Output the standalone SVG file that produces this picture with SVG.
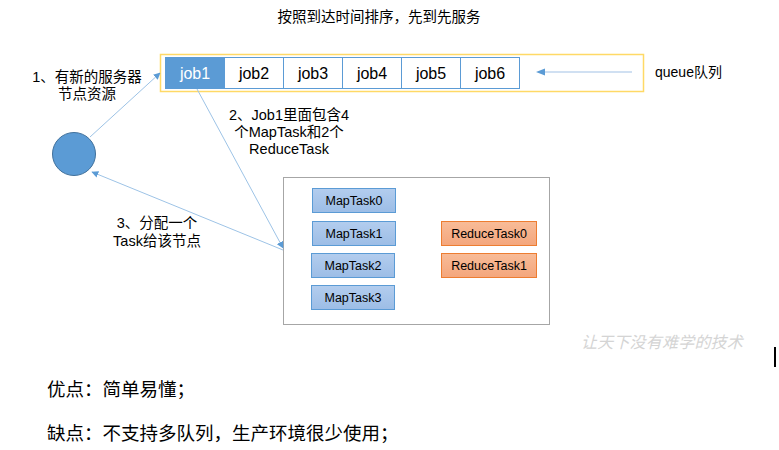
<svg xmlns="http://www.w3.org/2000/svg" width="779" height="450" viewBox="0 0 779 450">
<defs>
<marker id="ah" viewBox="0 0 10 10" refX="9" refY="5" markerWidth="7" markerHeight="7" markerUnits="userSpaceOnUse" orient="auto">
<path d="M0,0 L10,5 L0,10 z" fill="#5b9bd5"/>
</marker>
<linearGradient id="gb" x1="0" y1="0" x2="0" y2="1">
<stop offset="0" stop-color="#b3cdee"/><stop offset="1" stop-color="#9cbde6"/>
</linearGradient>
<linearGradient id="go" x1="0" y1="0" x2="0" y2="1">
<stop offset="0" stop-color="#f8bc98"/><stop offset="1" stop-color="#f4a67c"/>
</linearGradient>
</defs>
<style>
text{font-family:"Liberation Sans","Noto Sans CJK SC",sans-serif;fill:#000}
.lbl{font-size:14.5px;text-anchor:middle}
.job{fill:#fff;stroke:#5b9bd5;stroke-width:1}
.jt{font-size:16px;text-anchor:middle}
.map{fill:url(#gb);stroke:#5b9bd5;stroke-width:1}
.red{fill:url(#go);stroke:#ed7d31;stroke-width:1}
.tt{font-size:12.5px;text-anchor:middle}
.con{stroke:#9dc3e6;stroke-width:1;fill:none;marker-end:url(#ah)}
.note{font-family:"Liberation Serif","Noto Sans CJK SC",serif;font-size:18.5px}
</style>
<rect width="779" height="450" fill="#fff"/>
<g id="title"><text class="lbl" x="379" y="22">按照到达时间排序，先到先服务</text></g>
<g id="queue">
<rect x="160.5" y="54.5" width="483" height="37" fill="#fff" stroke="#ffd966" stroke-width="1.5"/>
</g>
<g id="job1"><rect x="165.5" y="57.5" width="59" height="31" fill="#5b9bd5" stroke="#5b9bd5"/><text class="jt" x="195" y="79" style="fill:#fff">job1</text></g>
<g id="job2"><rect class="job" x="224.5" y="57.5" width="59" height="31"/><text class="jt" x="254" y="79">job2</text></g>
<g id="job3"><rect class="job" x="283.5" y="57.5" width="59" height="31"/><text class="jt" x="313" y="79">job3</text></g>
<g id="job4"><rect class="job" x="342.5" y="57.5" width="59" height="31"/><text class="jt" x="372" y="79">job4</text></g>
<g id="job5"><rect class="job" x="401.5" y="57.5" width="59" height="31"/><text class="jt" x="431" y="79">job5</text></g>
<g id="job6"><rect class="job" x="460.5" y="57.5" width="59" height="31"/><text class="jt" x="490" y="79">job6</text></g>
<g id="queue-label"><text x="655" y="77" style="font-size:14px">queue队列</text></g>
<g id="node"><circle cx="74" cy="154" r="21.5" fill="#5b9bd5" stroke="#41719c" stroke-width="1"/></g>
<g id="box">
<rect x="283.5" y="177.5" width="266" height="147" fill="#fff" stroke="#a6a6a6" stroke-width="1"/>
</g>
<g id="MapTask0"><rect class="map" x="312.5" y="188.5" width="83" height="24"/><text class="tt" x="354" y="205">MapTask0</text></g>
<g id="MapTask1"><rect class="map" x="312.5" y="221.5" width="83" height="24"/><text class="tt" x="354" y="238">MapTask1</text></g>
<g id="MapTask2"><rect class="map" x="311.5" y="253.5" width="83" height="24"/><text class="tt" x="353" y="270">MapTask2</text></g>
<g id="MapTask3"><rect class="map" x="311.5" y="285.5" width="83" height="24"/><text class="tt" x="353" y="302">MapTask3</text></g>
<g id="ReduceTask0"><rect class="red" x="441.5" y="221.5" width="95" height="24"/><text class="tt" x="489" y="238">ReduceTask0</text></g>
<g id="ReduceTask1"><rect class="red" x="441.5" y="253.5" width="95" height="24"/><text class="tt" x="489" y="270">ReduceTask1</text></g>
<g id="connectors">
<line class="con" x1="90" y1="137" x2="160" y2="73"/>
<line class="con" x1="197" y1="89" x2="283" y2="248"/>
<line class="con" x1="283" y1="250" x2="92" y2="172"/>
<line x1="632" y1="72" x2="545" y2="72" stroke="#d0e0f2" stroke-width="2"/>
<path d="M536,72 L545,68.5 L545,75.5 z" fill="#5b9bd5"/>
</g>
<g id="label1"><text class="lbl" x="87" y="82">1、有新的服务器</text><text class="lbl" x="87" y="99">节点资源</text></g>
<g id="label2"><text class="lbl" x="289" y="120">2、Job1里面包含4</text><text class="lbl" x="289" y="137">个MapTask和2个</text><text class="lbl" x="289" y="154">ReduceTask</text></g>
<g id="label3"><text class="lbl" x="157" y="228">3、分配一个</text><text class="lbl" x="157" y="246">Task给该节点</text></g>
<g id="watermark"><text x="581" y="348" style="font-size:16px;fill:#d4d4d4;font-style:italic;letter-spacing:0.2px">让天下没有难学的技术</text></g>
<rect x="774" y="347" width="2" height="20" fill="#000"/>
<g id="notes">
<text class="note" x="47" y="396">优点：简单易懂；</text>
<text class="note" x="47" y="440">缺点：不支持多队列，生产环境很少使用；</text>
</g>
</svg>
